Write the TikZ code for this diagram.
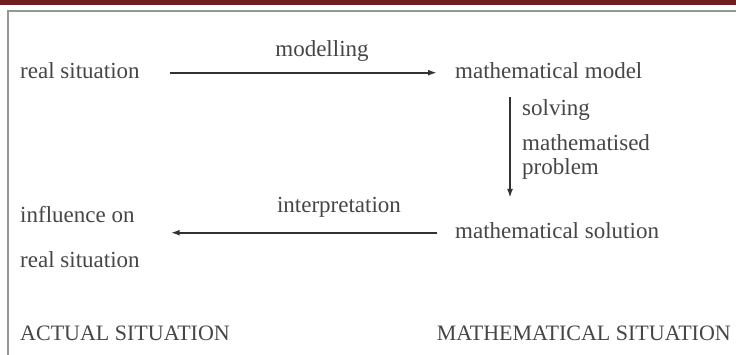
\documentclass[tikz,border=0pt]{standalone}
\usepackage{fontspec}
\setmainfont{Liberation Serif}
\usepackage{xcolor}
\usepackage{tikz}
\usetikzlibrary{positioning,arrows.meta}
\definecolor{barred}{RGB}{110,30,30}
\definecolor{framegray}{RGB}{150,150,150}
\definecolor{txtgray}{RGB}{70,70,70}
\definecolor{arrgray}{RGB}{50,50,50}
\tikzset{
  lbl/.style={inner sep=0pt, text=txtgray, font=\fontsize{23}{24}\selectfont},
  caps/.style={inner sep=0pt, text=txtgray, font=\fontsize{22}{24}\selectfont},
  arr/.style={draw=arrgray, line width=1.8pt, -{Latex[length=9pt,width=6pt]}}
}
\begin{document}
\begin{tikzpicture}[x=1pt,y=-1pt]
\useasboundingbox (0,0) rectangle (736,355);
\clip (0,0) rectangle (736,355);
\fill[white] (0,0) rectangle (736,355);
\fill[barred] (0,0) rectangle (736,5);
\draw[framegray, line width=2.5pt] (8,400) -- (8,11) -- (800,11);

\node[lbl, anchor=base west] (real) at (20,79) {real situation};
\node[lbl, anchor=base west] (model) at (455,79) {mathematical model};
\node[lbl, anchor=base] (modelling) at (322,57) {modelling};
\node[lbl, anchor=base west, align=left] (solving) at (522,175) {solving\\[11pt]mathematised\\problem};
\node[lbl, anchor=base west] (solution) at (455,239) {mathematical solution};
\node[lbl, anchor=base] (interp) at (339,213) {interpretation};
\node[lbl, anchor=base west] (influence) at (20,223) {influence on};
\node[lbl, anchor=base west] (realagain) at (20,268) {real situation};
\node[caps, anchor=base west] (actual) at (20,340) {ACTUAL SITUATION};
\node[caps, anchor=base east] (mathsit) at (731,340) {MATHEMATICAL SITUATION};

\draw[arr, shorten <=30pt, shorten >=18pt] ([yshift=4pt]real.mid east) -- ([yshift=4pt]model.mid west);
\draw[arr, shorten <=18pt, shorten >=25pt] ([xshift=-12pt]solving.west |- model.south) -- ([xshift=-12pt]solving.west |- solution.north);
\draw[arr, shorten <=18pt, shorten >=36pt] ([yshift=4pt]solution.mid west) -- ([yshift=4pt]solution.mid west -| influence.east);
\end{tikzpicture}
\end{document}
